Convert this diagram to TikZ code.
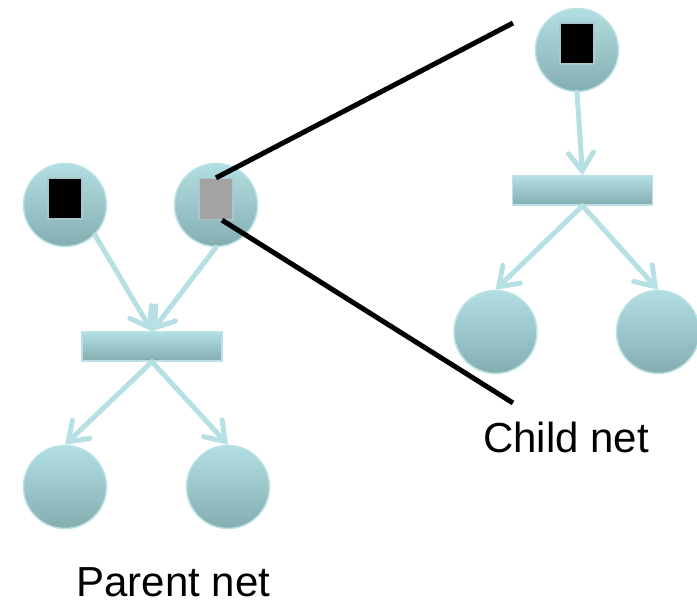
\documentclass[tikz,border=0pt]{standalone}
\usepackage{fontspec}
\setmainfont{Liberation Sans}
\usetikzlibrary{arrows.meta}
\definecolor{placetop}{RGB}{178,223,227}
\definecolor{placebot}{RGB}{132,173,176}
\definecolor{placeedge}{RGB}{186,225,229}
\definecolor{arccol}{RGB}{183,224,228}
\definecolor{tokenedge}{RGB}{170,200,204}
\definecolor{tokengrey}{RGB}{163,163,163}
\begin{document}
\begin{tikzpicture}[x=1pt,y=-1pt,
  place/.style={circle, minimum size=83pt, inner sep=0pt, draw=placeedge,
    line width=1.5pt, top color=placetop, bottom color=placebot},
  trans/.style={rectangle, minimum width=140pt, minimum height=29pt, inner sep=0pt,
    draw=placeedge, line width=1.5pt, top color=placetop, bottom color=placebot},
  token/.style={rectangle, minimum width=34pt, minimum height=41pt, inner sep=0pt,
    draw=tokenedge, line width=1.2pt, fill=black},
  arc/.style={draw=arccol, line width=5pt, line cap=round,
    -{Straight Barb[length=18pt, width=25pt, line cap=round]}},
  zoomline/.style={line width=5pt, draw=black},
  lbl/.style={font=\fontsize{42}{50}\selectfont, inner sep=0pt, anchor=base}]
\useasboundingbox (0,0) rectangle (697,606);

% parent net
\node[place] (p1) at (65,205) {};
\node[place] (p2) at (216,205) {};
\node[trans] (t1) at (152,346.5) {};
\node[place] (p3) at (65,487) {};
\node[place] (p4) at (228,487) {};
\node[token] (k1) at (65,198.5) {};
\node[token, fill=tokengrey] (k2) at (216,199) {};

% child net
\node[place] (p5) at (577,50) {};
\node[token] (k3) at (577,43.5) {};
\node[trans] (t2) at (582.5,190.5) {};
\node[place] (p6) at (495.5,332) {};
\node[place] (p7) at (658,332) {};

% arcs
\draw[arc] (p1.south east) -- (t1.north);
\draw[arc] (p2.south) -- (t1.north);
\draw[arc] (t1.south) -- (p3.north);
\draw[arc] (t1.south) -- (p4.north);
\draw[arc] (p5.south) -- (t2.north);
\draw[arc] (t2.south) -- (p6.north);
\draw[arc] (t2.south) -- (p7.north);

% refinement lines from the grey token
\coordinate (zt) at (513,23);
\coordinate (zb) at (513,403);
\draw[zoomline] (k2.north) -- (zt);
\draw[zoomline] ([xshift=6pt]k2.south) -- (zb);

% labels
\node[lbl] (pl) at (173.5,596) {Parent net};
\node[lbl] (cl) at (566,452) {Child net};
\end{tikzpicture}
\end{document}
